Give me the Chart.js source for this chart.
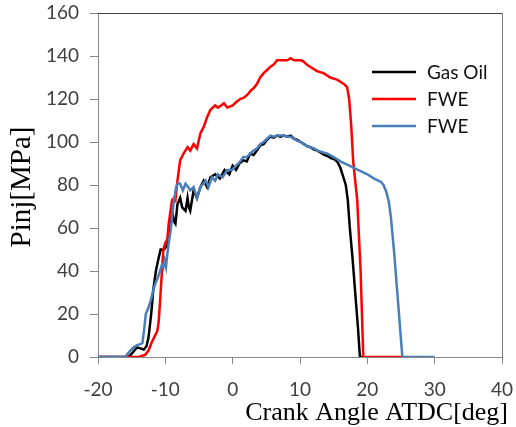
<!DOCTYPE html>
<html><head><meta charset="utf-8">
<script src="https://cdn.jsdelivr.net/npm/chart.js@4/dist/chart.umd.min.js"></script>
<style>html,body{margin:0;padding:0;background:#fff}#wrap{width:516px;height:427px}</style>
</head><body><div id="wrap"><canvas id="c" width="516" height="427"></canvas></div>
<script>
// Series labels
const seriesLabels = ["Gas Oil", "FWE", "FWE"];
const seriesColors = ["#000000", "#ff0000", "#4a7ebb"];

// Gas Oil (black)
const gasOilAngle = [-20,-15.5,-15.2,-14.6,-14.2,-13.7,-13.2,-12.8,-12.5,-12.1,-11.8,-11.4,-11.0,-10.7,-10.2,-9.7,-9.3,-9.0,-8.7,-8.5,-8.2,-7.8,-7.5,-7.0,-6.7,-6.5,-6.3,-5.8,-5.3,-4.8,-4.3,-3.8,-3.3,-2.6,-1.9,-1.2,-0.5,0.0,0.5,1.0,1.6,2.1,2.6,3.1,3.6,4.1,4.6,5.1,5.6,6.1,6.6,7.1,7.6,8.1,8.6,9.1,9.6,10.1,10.6,11.1,11.6,12.1,12.6,13.1,13.6,14.1,14.6,15.1,15.6,16.0,16.4,16.8,17.1,17.4,17.8,18.2,18.6,18.9,19.5];
const gasOilP = [0,0,0.8,3,4.5,4,3.5,5,9,20,31,40,46,50,50,52,60,68,63,62,71,74,69.6,68,74,69.6,68,77.5,74,79,82,79,83.6,85,83,87,85,89,87,90,91.5,91,94.6,94,96,98.5,99,101,102.5,102,103,102.5,103,102.5,103,101.5,101,100,99,98,97.5,96.5,96,95,94,93.5,92.5,92,90.5,88,84,80,73,60,46,30,14,0,0];

// FWE (red)
const fweAngle = [-20,-14,-13.5,-13,-12.5,-12.0,-11.6,-11.2,-11.0,-10.8,-10.5,-10.3,-10.0,-9.7,-9.5,-9.0,-8.7,-8.5,-8.2,-7.8,-7.3,-6.7,-6.3,-5.8,-5.3,-4.8,-4.3,-3.8,-3.3,-2.6,-2.2,-1.7,-1.3,-0.8,0,0.5,1.1,1.6,2.2,2.7,3.1,3.6,4.1,4.6,5.1,5.6,6.1,6.6,7.1,7.6,8.1,8.6,9.1,9.6,10.1,10.5,11.0,11.5,12.0,12.5,13.0,13.5,14.0,14.5,15.0,15.5,16.0,16.5,17.0,17.3,17.6,17.9,18.5,19.0,19.4,25.2];
const fweP = [0,0,0.5,1,3,7,9.5,12,16,25,40,50,53,55,62,73,74,73,82,91.5,94.6,97.6,96,99,97,104,107,111.5,115,117,116,117,118,116,117,118.5,120,120.5,122,124,125,127,130,132,133.5,135,136,138,138,138,138,139,138,138,138,137.5,136,135,134,133,132.5,132,131,130,129.5,129,128,127,125.5,120,108,91,73,40,0,0];

// FWE (blue)
const fwe2Angle = [-20,-16,-15.7,-15.2,-14.7,-14.2,-13.7,-13.4,-13.1,-12.9,-12.5,-12.1,-11.8,-11.4,-11.1,-10.8,-10.5,-10.3,-10.1,-9.9,-9.7,-9.5,-9.2,-8.9,-8.7,-8.4,-8.1,-7.8,-7.4,-7.0,-6.6,-6.3,-5.8,-5.3,-4.8,-4.0,-3.6,-3.1,-2.6,-2.2,-1.5,-0.8,-0.1,0.5,1.0,1.6,2.1,2.6,3.1,3.6,4.1,4.6,5.1,5.6,6.1,6.6,7.1,7.6,8.1,8.6,9.1,9.6,10.1,10.6,11.1,11.6,12.1,12.6,13.1,13.6,14.1,15.0,16.0,17.0,18.0,19.0,20.0,21.0,22.0,22.4,22.8,23.2,23.5,24.0,24.6,25.2,30];
const fwe2P = [0,0,1,3,4.5,5.5,6,6.5,14,20,23,27,31,35,37,40,43,41.7,45,42,48,53,59,68,73,79,81,80.6,77.5,80.6,79,77.5,79,74,79,82,79,83.6,82,85,83.6,87,87,89,90.5,93,93,94.6,96,97,99,100,101.5,103,102.5,103,103,103,102.5,102.5,101.5,100.5,100,99,98,97.5,97,96,95.5,95,94.6,93,91,89.5,88,86.5,85,83,81.5,80,77,72,65,48,24,0,0];

const xMin = -20, xMax = 40, xStep = 10;
const yMin = 0, yMax = 160, yStep = 20;

function pts(a, v) { return a.map((x, i) => ({ x: x, y: v[i] })); }

const AXIS = '#898989';
const tickFont = { family: 'Lato', size: 19 };

const deco = {
  id: 'deco',
  afterDraw(chart) {
    const ctx = chart.ctx, ca = chart.chartArea;
    ctx.save();
    ctx.lineWidth = 1;
    ctx.strokeStyle = '#404040';
    ctx.beginPath(); ctx.moveTo(ca.left, Math.round(ca.top) + 0.5); ctx.lineTo(ca.right + 1, Math.round(ca.top) + 0.5); ctx.stroke();
    ctx.strokeStyle = '#7f7f7f';
    ctx.beginPath(); ctx.moveTo(Math.round(ca.right) + 0.5, ca.top); ctx.lineTo(Math.round(ca.right) + 0.5, ca.bottom); ctx.stroke();
    // axis titles
    ctx.fillStyle = '#000';
    ctx.font = '26px "Liberation Serif"';
    ctx.textAlign = 'right'; ctx.textBaseline = 'alphabetic';
    ctx.fillText('Crank Angle ATDC[deg]', ca.right + 6, 420);
    ctx.save();
    ctx.translate(30, 187);
    ctx.rotate(-Math.PI / 2);
    ctx.font = '29px "Liberation Serif"';
    ctx.textAlign = 'center';
    ctx.fillText('Pinj[MPa]', 0, 0);
    ctx.restore();
    // legend
    ctx.font = '19px Lato';
    ctx.textAlign = 'left'; ctx.textBaseline = 'middle';
    chart.data.datasets.forEach((ds, i) => {
      const y = 72 + 27 * i;
      ctx.strokeStyle = ds.borderColor; ctx.lineWidth = 2.5;
      ctx.beginPath(); ctx.moveTo(372, y); ctx.lineTo(416, y); ctx.stroke();
      ctx.fillStyle = '#111';
      ctx.fillText(ds.label, 427, y + 1);
    });
    ctx.restore();
  }
};

new Chart(document.getElementById('c'), {
  type: 'line',
  data: {
    datasets: [
      { label: seriesLabels[0], data: pts(gasOilAngle, gasOilP), borderColor: seriesColors[0], order: 2 },
      { label: seriesLabels[1], data: pts(fweAngle, fweP), borderColor: seriesColors[1], order: 1 },
      { label: seriesLabels[2], data: pts(fwe2Angle, fwe2P), borderColor: seriesColors[2], order: 0 }
    ]
  },
  options: {
    responsive: false,
    animation: false,
    devicePixelRatio: 1,
    layout: { padding: { top: 13, right: 14, left: 0, bottom: 0 } },
    elements: { point: { radius: 0 }, line: { borderWidth: 2.5, tension: 0, fill: false } },
    plugins: { legend: { display: false }, tooltip: { enabled: false } },
    scales: {
      x: {
        type: 'linear', min: xMin, max: xMax,
        ticks: { stepSize: xStep, font: tickFont, color: '#404040', padding: 14, maxRotation: 0 },
        grid: { drawOnChartArea: false, drawTicks: true, tickLength: 7, color: AXIS },
        border: { color: AXIS, width: 1 },
        afterFit(s) { s.height = 70; s.paddingLeft = 0; s.paddingRight = 0; }
      },
      y: {
        min: yMin, max: yMax,
        ticks: { stepSize: yStep, font: tickFont, color: '#404040', padding: 11 },
        grid: { drawOnChartArea: false, drawTicks: true, tickLength: 8, color: AXIS },
        border: { color: AXIS, width: 1 },
        afterFit(s) { s.width = 98; s.paddingTop = 0; s.paddingBottom = 0; }
      }
    }
  },
  plugins: [deco]
});
</script></body></html>
